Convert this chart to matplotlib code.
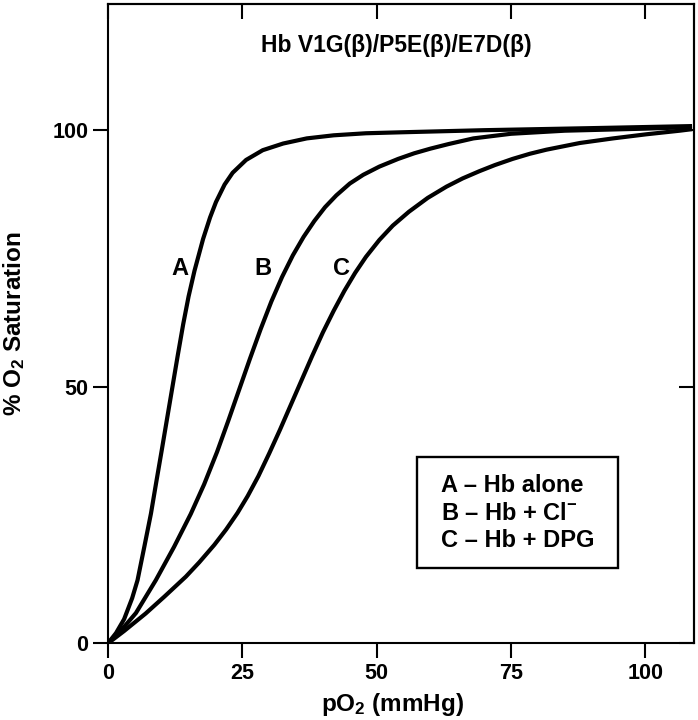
import matplotlib
matplotlib.use("Agg")
import matplotlib.pyplot as plt
from matplotlib.patches import Rectangle

plt.rcParams['font.family'] = ['Liberation Sans', 'DejaVu Sans']
plt.rcParams['font.weight'] = 'bold'
plt.rcParams['mathtext.fontset'] = 'custom'
plt.rcParams['mathtext.rm'] = 'Liberation Sans:bold'
plt.rcParams['mathtext.bf'] = 'Liberation Sans:bold'
plt.rcParams['mathtext.it'] = 'Liberation Sans:bold'

# ---- data ----
a_x = [0, 1.5, 3.0, 4.5, 5.5, 6.76, 8.0, 9.0, 10.0, 11.0, 12.0, 13.0, 14.0, 15.0,
       16.1, 17.7, 19.0, 20.1, 21.7, 23.2, 25.7, 28.8, 32.6, 37.0, 42.0, 48.0, 55.0,
       70.0, 90.0, 108.7]
a_y = [0, 2.0, 4.7, 8.8, 12.3, 18.8, 25.3, 31.5, 37.6, 43.8, 50.0, 56.2, 62.2, 67.6,
       72.6, 78.8, 83.0, 86.0, 89.4, 91.7, 94.2, 96.1, 97.4, 98.4, 99.0, 99.4, 99.6,
       100.0, 100.4, 100.8]

b_x = [0, 2.5, 5.2, 8.9, 12.3, 15.4, 17.9, 20.3, 22.4, 24.4, 26.4, 28.4, 30.4,
       32.4, 34.4, 36.4, 38.4, 40.4, 42.5, 45.0, 47.5, 50.5, 54.0, 57.0, 60.0, 63.4,
       68.0, 75.0, 85.0, 100.0, 108.7]
b_y = [0, 2.6, 5.9, 12.3, 18.8, 25.2, 31.0, 37.3, 43.4, 49.4, 55.4, 61.2, 66.6,
       71.4, 75.6, 79.2, 82.3, 85.0, 87.3, 89.6, 91.3, 92.9, 94.4, 95.5, 96.4, 97.3,
       98.4, 99.3, 99.9, 100.3, 100.6]

c_x = [0, 3.0, 7.0, 10.5, 14.5, 17.0, 19.8, 22.0, 24.1, 26.0, 28.0, 30.0, 32.0, 34.0,
       36.0, 38.0, 40.0, 42.0, 44.0, 46.0, 48.0, 50.5, 53.0, 56.0, 59.5, 63.0, 66.0,
       69.1, 72.0, 75.3, 78.5, 81.6, 87.8, 94.0, 100.2, 106.4, 108.7]
c_y = [0, 2.4, 5.8, 9.1, 13.0, 15.8, 19.2, 22.2, 25.4, 28.7, 32.6, 37.0, 41.6, 46.4,
       51.2, 56.0, 60.6, 64.8, 68.7, 72.2, 75.3, 78.6, 81.4, 84.1, 86.8, 89.0, 90.6,
       92.0, 93.2, 94.4, 95.4, 96.2, 97.5, 98.4, 99.2, 99.9, 100.2]

x_ticks = [0, 25, 50, 75, 100]
y_ticks = [0, 50, 100]
curve_labels = ['A', 'B', 'C']
label_x = [13.3, 28.8, 43.4]
label_y = [73, 73, 73]
legend_lines = ['A – Hb alone', 'B – Hb + Cl$^{-}$', 'C – Hb + DPG']
title = 'Hb V1G(β)/P5E(β)/E7D(β)'

fig = plt.figure(figsize=(6.98, 7.2), dpi=100)
ax = fig.add_axes([0.1547, 0.1065, 0.8391, 0.8873])

for xs, ys in [(a_x, a_y), (b_x, b_y), (c_x, c_y)]:
    ax.plot(xs, ys, color='black', lw=3.0, solid_capstyle='butt', solid_joinstyle='round')

ax.set_xlim(0, 109)
ax.set_ylim(0, 124.5)

for s in ax.spines.values():
    s.set_linewidth(1.5)

ax.set_xticks(x_ticks)
ax.set_yticks(y_ticks)
ax.set_xticklabels([str(t) for t in x_ticks], fontweight='bold')
ax.set_yticklabels([str(t) for t in y_ticks], fontweight='bold')
ax.tick_params(axis='both', direction='out', length=11, width=1.5, labelsize=15.5, pad=3)

top = ax.secondary_xaxis('top')
top.set_xticks(x_ticks)
top.set_xticklabels([])
top.tick_params(direction='in', length=11, width=1.5)
top.spines['top'].set_linewidth(1.5)
right = ax.secondary_yaxis('right')
right.set_yticks(y_ticks)
right.set_yticklabels([])
right.tick_params(direction='in', length=11, width=1.5)
right.spines['right'].set_linewidth(1.5)

ax.set_xlabel('pO$_{2}$ (mmHg)', fontsize=17.5, fontweight='bold')
ax.xaxis.set_label_coords(0.486, -0.074)
ax.xaxis.label.set_va('top')
ax.set_ylabel('% O$_{2}$ Saturation', fontsize=17.5, fontweight='bold')
ax.yaxis.set_label_coords(-0.138, 0.5)

ax.text(0.4926, 0.935, title, transform=ax.transAxes, ha='center', va='center',
        fontsize=16.5, fontweight='bold')

for lab, lx, ly in zip(curve_labels, label_x, label_y):
    ax.text(lx, ly, lab, ha='center', va='center', fontsize=17, fontweight='bold')

ax.add_patch(Rectangle((0.527, 0.118), 0.344, 0.174, transform=ax.transAxes,
                       fill=False, edgecolor='black', lw=1.7, zorder=5))
for i, line in enumerate(legend_lines):
    ax.text(0.569, 0.2467 - i * 0.0432, line, transform=ax.transAxes, ha='left',
            va='center', fontsize=17, fontweight='bold')

fig.savefig('out.png', dpi=100)
